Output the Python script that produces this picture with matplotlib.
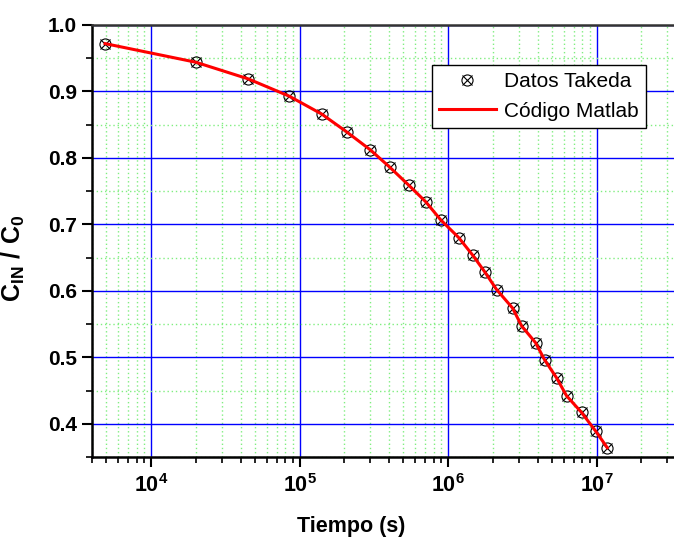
import matplotlib
matplotlib.use('Agg')
import matplotlib.pyplot as plt
from matplotlib.ticker import LogLocator, MultipleLocator, NullFormatter, FuncFormatter
from matplotlib.legend_handler import HandlerTuple
import numpy as np

# Takeda data (time in s, C_IN / C_0)
tiempo = [4.9e3, 2.0e4, 4.5e4, 8.5e4, 1.41e5, 2.08e5, 3.0e5, 4.05e5, 5.43e5,
          7.07e5, 8.9e5, 1.18e6, 1.46e6, 1.76e6, 2.12e6, 2.72e6, 3.13e6,
          3.88e6, 4.47e6, 5.38e6, 6.28e6, 7.92e6, 9.85e6, 1.18e7]
c_ratio = [0.972, 0.944, 0.919, 0.893, 0.866, 0.839, 0.812, 0.786, 0.759,
           0.734, 0.707, 0.680, 0.654, 0.629, 0.602, 0.574, 0.547,
           0.522, 0.496, 0.469, 0.442, 0.417, 0.389, 0.364]

# Matlab curve
t_matlab = tiempo
c_matlab = c_ratio

plt.rcParams['font.family'] = ['Liberation Sans', 'DejaVu Sans']
plt.rcParams['mathtext.fontset'] = 'custom'
plt.rcParams['mathtext.rm'] = 'Liberation Sans:bold'
plt.rcParams['mathtext.bf'] = 'Liberation Sans:bold'
plt.rcParams['mathtext.it'] = 'Liberation Sans:bold'

fig = plt.figure(figsize=(6.74, 5.37), dpi=100)
ax = fig.add_axes([92 / 674, 80 / 537, 594 / 674, 432 / 537])

ax.set_xscale('log')
ax.set_xlim(4e3, 4e7)
ax.set_ylim(0.35, 1.0)

# grid
ax.set_axisbelow(True)
ax.grid(which='major', color='blue', linestyle='-', linewidth=1.0)
ax.grid(which='minor', color='#80ee80', linestyle=(0, (1, 2)), linewidth=1.0)

# markers: circle with a cross
p1, = ax.plot(tiempo, c_ratio, linestyle='none', marker='o', markersize=8,
              markerfacecolor='none', markeredgecolor='black', markeredgewidth=0.8, zorder=3)
p2, = ax.plot(tiempo, c_ratio, linestyle='none', marker='x', markersize=7.5,
              markeredgecolor='black', markeredgewidth=0.8, zorder=3)
ln, = ax.plot(t_matlab, c_matlab, color='red', linewidth=2.2, zorder=4)

# ticks
ax.xaxis.set_major_locator(LogLocator(base=10, numticks=10))
ax.xaxis.set_major_formatter(FuncFormatter(lambda v, p: r'$\mathbf{10^{%d}}$' % round(np.log10(v))))
ax.xaxis.set_minor_locator(LogLocator(base=10, subs=range(2, 10), numticks=20))
ax.xaxis.set_minor_formatter(NullFormatter())
ax.yaxis.set_major_locator(MultipleLocator(0.1))
ax.yaxis.set_minor_locator(MultipleLocator(0.05))
ax.yaxis.set_major_formatter(FuncFormatter(lambda v, p: '%.1f' % v))
ax.tick_params(which='major', direction='out', length=7, width=1.5)
ax.tick_params(which='minor', direction='out', length=4, width=1.2)
ax.tick_params(axis='x', which='major', labelsize=15.5, pad=5)
ax.tick_params(axis='y', which='major', labelsize=15, pad=4)
for lbl in ax.get_yticklabels():
    lbl.set_fontweight('bold')

for s in ax.spines.values():
    s.set_linewidth(1.8)
ax.spines['top'].set_color('#333333')

ax.set_xlabel('Tiempo (s)', fontsize=15.5, fontweight='bold')
ax.xaxis.set_label_coords(0.437, -0.137)
ax.set_ylabel(r'$\mathbf{C_{IN}\ /\ C_0}$', fontsize=18)
ax.yaxis.set_label_coords(-0.11, 0.46)

leg = fig.legend([(p1, p2), ln], ['Datos Takeda', 'Código Matlab'],
                 handler_map={tuple: HandlerTuple(ndivide=1)},
                 loc='upper left', bbox_to_anchor=(432 / 674, 1 - 65 / 537),
                 fontsize=15, frameon=True, fancybox=False, edgecolor='black',
                 framealpha=1, handlelength=2.7, borderpad=0.35, borderaxespad=0,
                 labelspacing=0.5, handletextpad=0.4)
leg.get_frame().set_linewidth(1.0)

plt.savefig('out.png', dpi=100)
